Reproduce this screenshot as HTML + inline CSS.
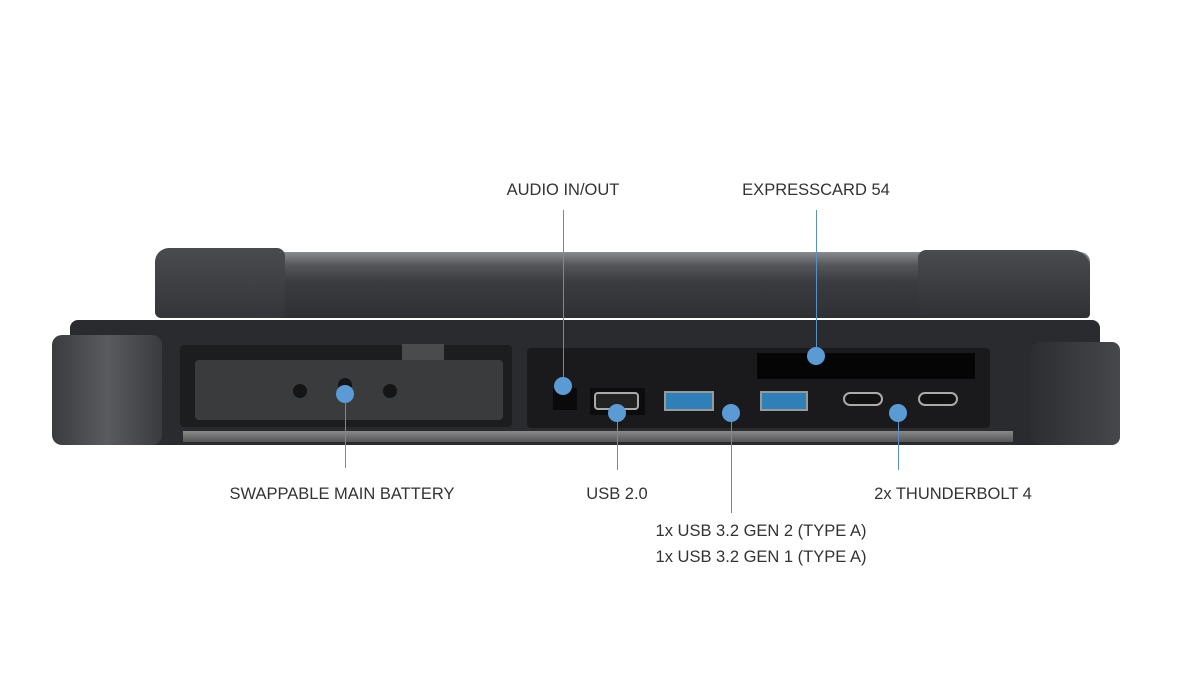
<!DOCTYPE html>
<html><head><style>
body{margin:0;width:1200px;height:700px;background:#fff;position:relative;overflow:hidden;font-family:"Liberation Sans",sans-serif}
.a{position:absolute}
.t{position:absolute;font-size:16.5px;color:#333;white-space:nowrap;transform:translateX(-50%);letter-spacing:0}
.l{position:absolute;width:1px;background:#5b8fc8}
.d{position:absolute;width:18px;height:18px;border-radius:50%;background:#5b9bd5;margin:-9px 0 0 -9px}
</style></head><body>
<!-- lid -->
<div class="a" style="left:160px;top:252px;width:930px;height:66px;background:linear-gradient(#8a8b8d,#55565a 20%,#3b3c3f 45%,#2f3033);border-radius:10px 10px 4px 4px"></div>
<div class="a" style="left:155px;top:248px;width:130px;height:70px;background:linear-gradient(#4a4b4e,#343538);border-radius:14px 8px 4px 6px"></div>
<div class="a" style="left:918px;top:250px;width:172px;height:66px;background:linear-gradient(#4a4b4e,#303134);border-radius:8px 18px 10px 4px"></div>
<!-- base -->
<div class="a" style="left:70px;top:320px;width:1030px;height:125px;background:#2a2b2e;border-radius:8px"></div>
<div class="a" style="left:52px;top:335px;width:110px;height:110px;background:linear-gradient(90deg,#3a3b3e,#5a5b5e 50%,#3a3b3e);border-radius:10px"></div>
<div class="a" style="left:1030px;top:342px;width:90px;height:103px;background:linear-gradient(90deg,#2c2d30,#46474a);border-radius:12px 8px 8px 12px"></div>
<!-- battery bay -->
<div class="a" style="left:180px;top:345px;width:332px;height:82px;background:#1c1d1f;border-radius:4px"></div>
<div class="a" style="left:195px;top:360px;width:308px;height:60px;background:#3a3b3d;border-radius:4px"></div>
<div class="a" style="left:402px;top:344px;width:42px;height:16px;background:#4a4b4d"></div>
<div class="a" style="left:293px;top:384px;width:14px;height:14px;border-radius:50%;background:#151516"></div>
<div class="a" style="left:383px;top:384px;width:14px;height:14px;border-radius:50%;background:#151516"></div>
<div class="a" style="left:338px;top:378px;width:14px;height:14px;border-radius:50%;background:#151516"></div>
<!-- port panel -->
<div class="a" style="left:527px;top:348px;width:463px;height:80px;background:#1a1a1c;border-radius:4px"></div>
<div class="a" style="left:757px;top:353px;width:218px;height:26px;background:#050505"></div>
<div class="a" style="left:553px;top:388px;width:24px;height:22px;background:#0a0a0a"></div>
<div class="a" style="left:590px;top:388px;width:55px;height:27px;background:#0c0c0c"></div>
<div class="a" style="left:594px;top:392px;width:45px;height:18px;border:2px solid #aaa;border-radius:4px;box-sizing:border-box;background:#222"></div>
<div class="a" style="left:664px;top:391px;width:50px;height:20px;background:#2f7fb8;border:2px solid #999;box-sizing:border-box"></div>
<div class="a" style="left:760px;top:391px;width:48px;height:20px;background:#2f7fb8;border:2px solid #999;box-sizing:border-box"></div>
<div class="a" style="left:843px;top:392px;width:40px;height:14px;background:#111;border:2px solid #aaa;border-radius:7px;box-sizing:border-box"></div>
<div class="a" style="left:918px;top:392px;width:40px;height:14px;background:#111;border:2px solid #aaa;border-radius:7px;box-sizing:border-box"></div>
<!-- bottom strip -->
<div class="a" style="left:183px;top:431px;width:830px;height:11px;background:linear-gradient(#8a8a8a,#555)"></div>
<!-- lines -->
<div class="l" style="left:345px;top:400px;height:68px"></div>
<div class="l" style="left:563px;top:210px;height:175px"></div>
<div class="l" style="left:617px;top:413px;height:57px"></div>
<div class="l" style="left:731px;top:413px;height:100px"></div>
<div class="l" style="left:816px;top:210px;height:146px"></div>
<div class="l" style="left:898px;top:413px;height:57px"></div>
<div class="d" style="left:345px;top:394px"></div>
<div class="d" style="left:563px;top:386px"></div>
<div class="d" style="left:617px;top:413px"></div>
<div class="d" style="left:731px;top:413px"></div>
<div class="d" style="left:816px;top:356px"></div>
<div class="d" style="left:898px;top:413px"></div>
<!-- labels -->
<div class="t" style="left:563px;top:181px">AUDIO IN/OUT</div>
<div class="t" style="left:816px;top:181px">EXPRESSCARD 54</div>
<div class="t" style="left:342px;top:485px">SWAPPABLE MAIN BATTERY</div>
<div class="t" style="left:617px;top:485px">USB 2.0</div>
<div class="t" style="left:953px;top:485px">2x THUNDERBOLT 4</div>
<div class="t" style="left:761px;top:522px">1x USB 3.2 GEN 2 (TYPE A)</div>
<div class="t" style="left:761px;top:548px">1x USB 3.2 GEN 1 (TYPE A)</div>
</body></html>
